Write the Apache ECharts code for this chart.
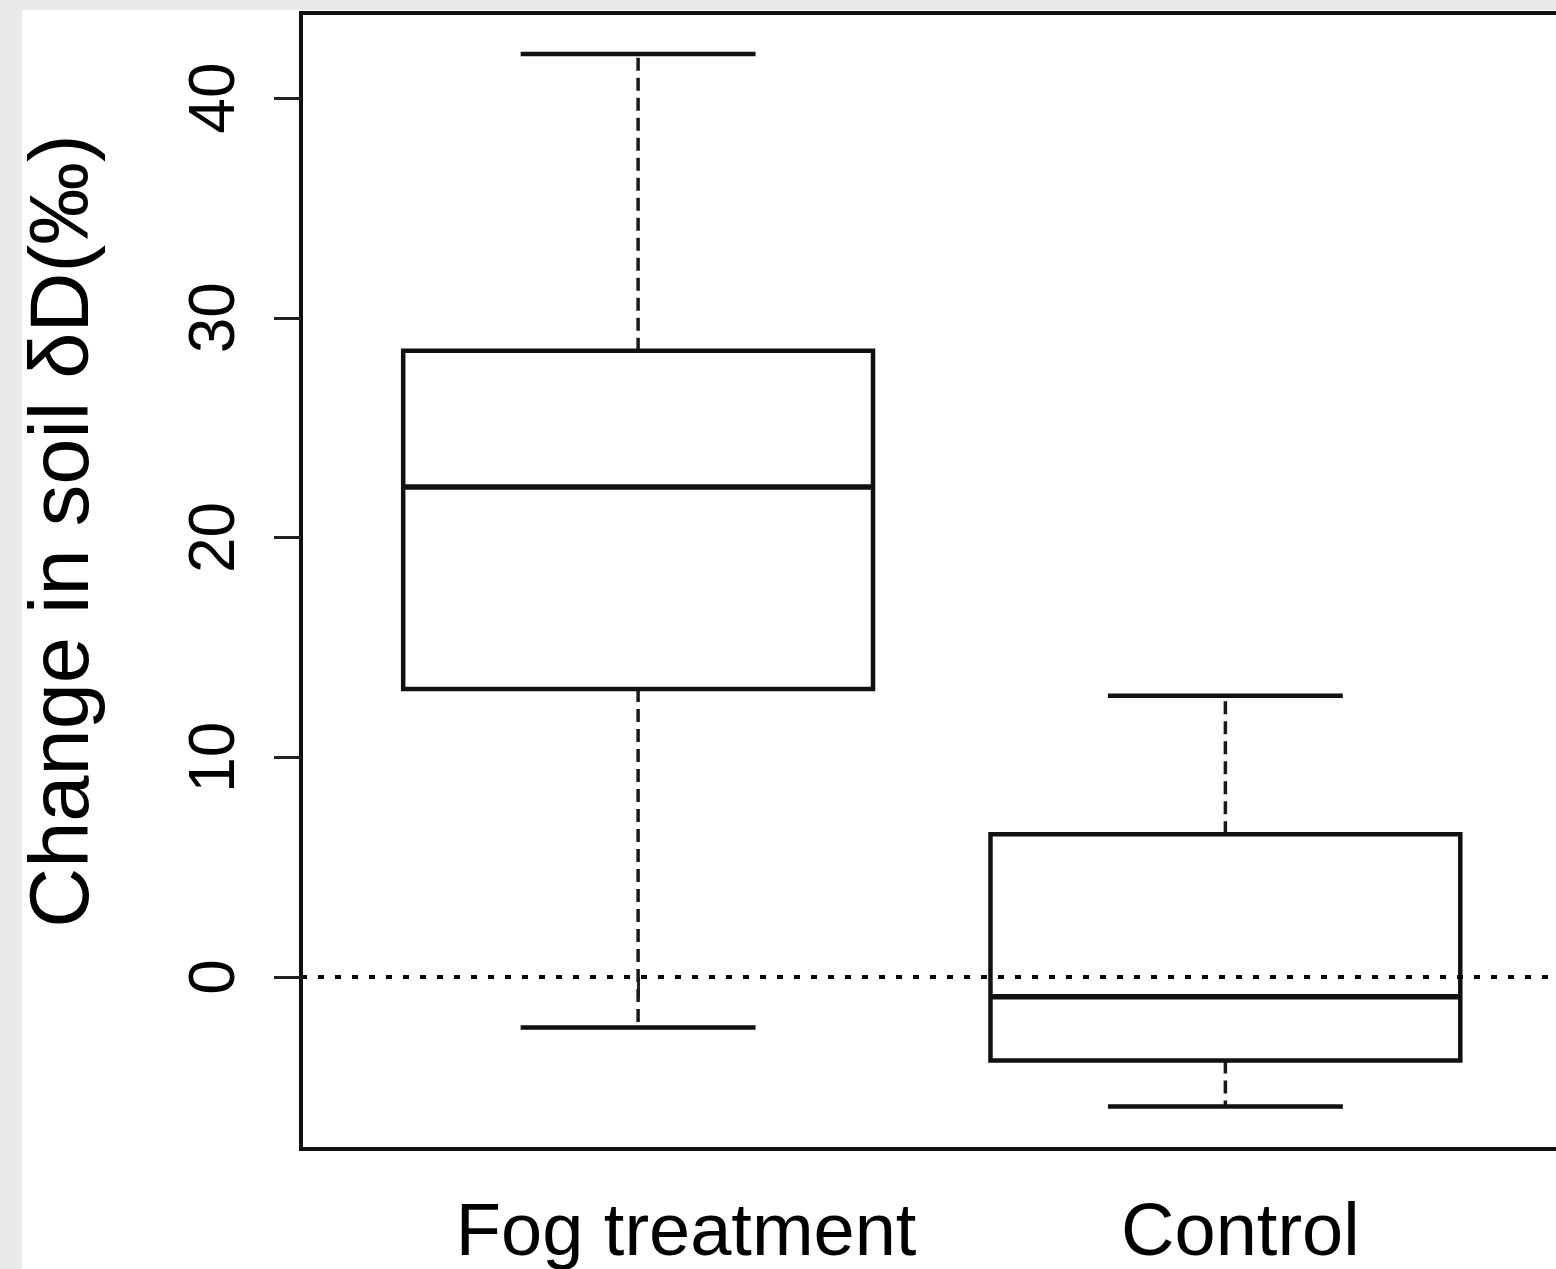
<!DOCTYPE html>
<html>
<head>
<meta charset="utf-8">
<script src="https://cdn.jsdelivr.net/npm/echarts@6/dist/echarts.min.js"></script>
<style>
    html, body { margin: 0; padding: 0; background: #e9e9e7; }
    #paper { position: absolute; left: 22px; top: 10px; right: 0; bottom: 0; background: #fff; }
    #chart { position: absolute; left: 0; top: 0; width: 1556px; height: 1269px; }
</style>
</head>
<body>
<div id="paper"></div>
<div id="chart"></div>
<script>
// ---- data ----
const categories = ['Fog treatment', 'Control'];
const lowerWhisker = [-2.3, -5.9];
const lowerHinge = [13.1, -3.8];
const medians = [22.3, -0.9];
const upperHinge = [28.5, 6.5];
const upperWhisker = [42.0, 12.8];
const yTicks = [0, 10, 20, 30, 40];
const yTitle = 'Change in soil δD(‰)';

const FONT = '"Liberation Sans", Arial, Helvetica, sans-serif';

const chart = echarts.init(document.getElementById('chart'), null, { renderer: 'canvas' });

const boxData = categories.map((c, i) => [
    i + 1, lowerWhisker[i], lowerHinge[i], medians[i], upperHinge[i], upperWhisker[i]
]);

// R-style box: solid box + median, dashed whiskers, half-width staples
function renderBox(params, api) {
    const x = api.value(0);
    const lo = api.value(1), q1 = api.value(2), med = api.value(3), q3 = api.value(4), hi = api.value(5);
    const half = 0.4, capHalf = 0.2;
    const c = (xx, yy) => api.coord([xx, yy]);

    const solid = { stroke: '#111', lineWidth: 4.5, fill: null };
    const dashed = { stroke: '#1a1a1a', lineWidth: 3.5, lineDash: [13, 7] };

    const tl = c(x - half, q3), br = c(x + half, q1);
    const line = (a, b, style) => ({
        type: 'line',
        shape: { x1: a[0], y1: a[1], x2: b[0], y2: b[1] },
        style: style
    });

    return {
        type: 'group',
        children: [
            line(c(x, q3), c(x, hi), dashed),
            line(c(x, q1), c(x, lo), dashed),
            line(c(x - capHalf, hi), c(x + capHalf, hi), solid),
            line(c(x - capHalf, lo), c(x + capHalf, lo), solid),
            {
                type: 'rect',
                shape: { x: tl[0], y: tl[1], width: br[0] - tl[0], height: br[1] - tl[1] },
                style: { fill: '#fff', stroke: '#111', lineWidth: 4.5 }
            },
            line(c(x - half, med), c(x + half, med), { stroke: '#111', lineWidth: 5.5 })
        ]
    };
}

chart.setOption({
    animation: false,
    backgroundColor: 'transparent',
    grid: {
        left: 301, top: 13, width: 1265, height: 1136,
        outerBoundsMode: 'none',
        containLabel: false,
        show: true, borderColor: '#111', borderWidth: 4, backgroundColor: 'transparent'
    },
    xAxis: {
        type: 'value',
        min: 0.426, max: 2.58,
        axisLine: { show: false },
        splitLine: { show: false },
        axisTick: {
            show: true, customValues: [1, 2], length: 22, inside: false,
            lineStyle: { color: '#222', width: 3 }
        },
        axisLabel: {
            show: true, customValues: [1, 2], margin: 49,
            // labels in the figure sit a little right of their ticks
            formatter: v => (Math.round(v) === 1 ? '{a|' : '{b|') + categories[Math.round(v) - 1] + '}',
            rich: {
                a: { fontFamily: FONT, fontSize: 74, lineHeight: 74, color: '#000', padding: [0, 0, 0, 96] },
                b: { fontFamily: FONT, fontSize: 74, lineHeight: 74, color: '#000', padding: [0, 0, 0, 30] }
            },
            fontFamily: FONT, fontSize: 74, lineHeight: 74, color: '#000'
        }
    },
    yAxis: {
        type: 'value',
        min: -7.83, max: 43.87,
        axisLine: { show: false },
        splitLine: { show: false },
        axisTick: {
            show: true, customValues: yTicks, length: 27, inside: false,
            lineStyle: { color: '#222', width: 3 }
        },
        axisLabel: {
            show: true, customValues: yTicks, rotate: 90, margin: 53,
            fontFamily: FONT, fontSize: 64, lineHeight: 64, color: '#000'
        }
    },
    graphic: [{
        type: 'text',
        x: 65, y: 531,
        rotation: Math.PI / 2,
        style: {
            text: yTitle,
            font: '83px ' + FONT,
            fill: '#000',
            align: 'center',
            verticalAlign: 'middle'
        }
    }],
    series: [
        {
            type: 'custom',
            renderItem: renderBox,
            data: boxData,
            encode: { x: 0, y: [1, 2, 3, 4, 5] },
            z: 2
        },
        {
            type: 'line',
            data: [],
            z: 5,
            markLine: {
                silent: true,
                symbol: ['none', 'none'],
                label: { show: false },
                lineStyle: { color: '#000', width: 4, type: [6, 11] },
                data: [{ yAxis: 0 }]
            }
        }
    ]
});
</script>
</body>
</html>
